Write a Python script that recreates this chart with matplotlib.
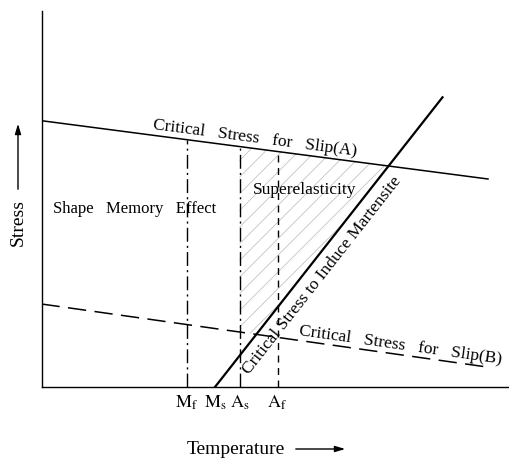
import numpy as np
import matplotlib.pyplot as plt
from matplotlib.patches import Polygon

plt.rcParams["font.family"] = ["Liberation Serif", "DejaVu Serif"]
plt.rcParams["mathtext.fontset"] = "stix"
plt.rcParams["hatch.linewidth"] = 0.5

# transformation temperatures (arbitrary temperature units)
T_LABELS = [r"$\mathrm{M_f}$", r"$\mathrm{M_s}$", r"$\mathrm{A_s}$", r"$\mathrm{A_f}$"]
T_VALUES = [145, 173.5, 198, 236]
MF, MS, AS, AF = T_VALUES

# straight lines given as (temperature, stress) end points
SLIP_A_T = [0, 446.5]
SLIP_A_S = [266.3, 208]
SLIP_B_T = [0, 445.5]
SLIP_B_S = [83, 20]
MART_T = [MS, 401]
MART_S = [0, 289.7]


def line_at(ts, ss, t):
    return np.interp(t, ts, ss)


def intersect(ta, sa, tb, sb):
    ma = (sa[1] - sa[0]) / (ta[1] - ta[0])
    mb = (sb[1] - sb[0]) / (tb[1] - tb[0])
    ca = sa[0] - ma * ta[0]
    cb = sb[0] - mb * tb[0]
    t = (cb - ca) / (ma - mb)
    return t, ma * t + ca


fig = plt.figure(figsize=(5.09, 4.60), dpi=100)
ax = fig.add_axes([41.5 / 509, 72 / 460, 467.5 / 509, 376 / 460])
ax.set_xlim(0, 467.5)
ax.set_ylim(0, 376)
ax.spines[["top", "right"]].set_visible(False)
ax.spines["left"].set_linewidth(1.0)
ax.spines["bottom"].set_linewidth(1.0)
ax.set_yticks([])
ax.set_xticks(T_VALUES, T_LABELS, fontsize=13)
ax.tick_params(axis="x", length=0, pad=4)

# superelastic window (hatched)
t_am, s_am = intersect(SLIP_A_T, SLIP_A_S, MART_T, MART_S)
t_bm, s_bm = intersect(SLIP_B_T, SLIP_B_S, MART_T, MART_S)
poly = [
    (AS, line_at(SLIP_A_T, SLIP_A_S, AS)),
    (t_am, s_am),
    (t_bm, s_bm),
    (AS, line_at(SLIP_B_T, SLIP_B_S, AS)),
]
ax.add_patch(Polygon(poly, closed=True, facecolor="none", edgecolor="#b8b8b8",
                     hatch="//", linewidth=0))

ax.plot(SLIP_A_T, SLIP_A_S, color="black", lw=1.1)
ax.plot(SLIP_B_T, SLIP_B_S, color="black", lw=1.1, linestyle=(0, (12, 5.5)))
ax.plot(MART_T, MART_S, color="black", lw=1.6)

for t, style in [(MF, (0, (10, 3, 1.5, 3))), (AS, (0, (10, 3, 1.5, 3))), (AF, (0, (5, 4)))]:
    ax.plot([t, t], [0, line_at(SLIP_A_T, SLIP_A_S, t)], color="black", lw=1.0,
            linestyle=style)


def angle_of(ts, ss):
    p = ax.transData.transform(np.column_stack([ts, ss]))
    d = p[1] - p[0]
    return np.degrees(np.arctan2(d[1], d[0]))


ax.text(213, 250, "Critical   Stress   for   Slip(A)", fontsize=12.5,
        rotation=angle_of(SLIP_A_T, SLIP_A_S), ha="center", va="center",
        rotation_mode="anchor")
ax.text(358.5, 43, "Critical   Stress   for   Slip(B)", fontsize=12.5,
        rotation=angle_of(SLIP_B_T, SLIP_B_S), ha="center", va="center",
        rotation_mode="anchor")
ax.text(281, 113, "Critical Stress to Induce Martensite", fontsize=12.5,
        rotation=angle_of(MART_T, MART_S), ha="center", va="center",
        rotation_mode="anchor")
ax.text(93, 179, "Shape   Memory   Effect", fontsize=12, ha="center", va="center")
ax.text(263.5, 198, "Superelasticity", fontsize=12.5, ha="center", va="center")

# axis titles with arrows
fig.text(18 / 509, 1 - 223 / 460, "Stress", rotation=90, fontsize=14,
         ha="center", va="center")
fig.text(236 / 509, 1 - 450 / 460, "Temperature", fontsize=14,
         ha="center", va="center")
arrow = dict(arrowstyle="-|>,head_length=0.6,head_width=0.18", color="black", lw=1.0)
ax.annotate("", xy=(18, 460 - 122), xytext=(18, 460 - 193),
            xycoords="figure pixels", textcoords="figure pixels", arrowprops=arrow,
            annotation_clip=False)
ax.annotate("", xy=(348, 460 - 450), xytext=(293, 460 - 450),
            xycoords="figure pixels", textcoords="figure pixels", arrowprops=arrow,
            annotation_clip=False)

fig.savefig("out.png", dpi=100, facecolor="white")
